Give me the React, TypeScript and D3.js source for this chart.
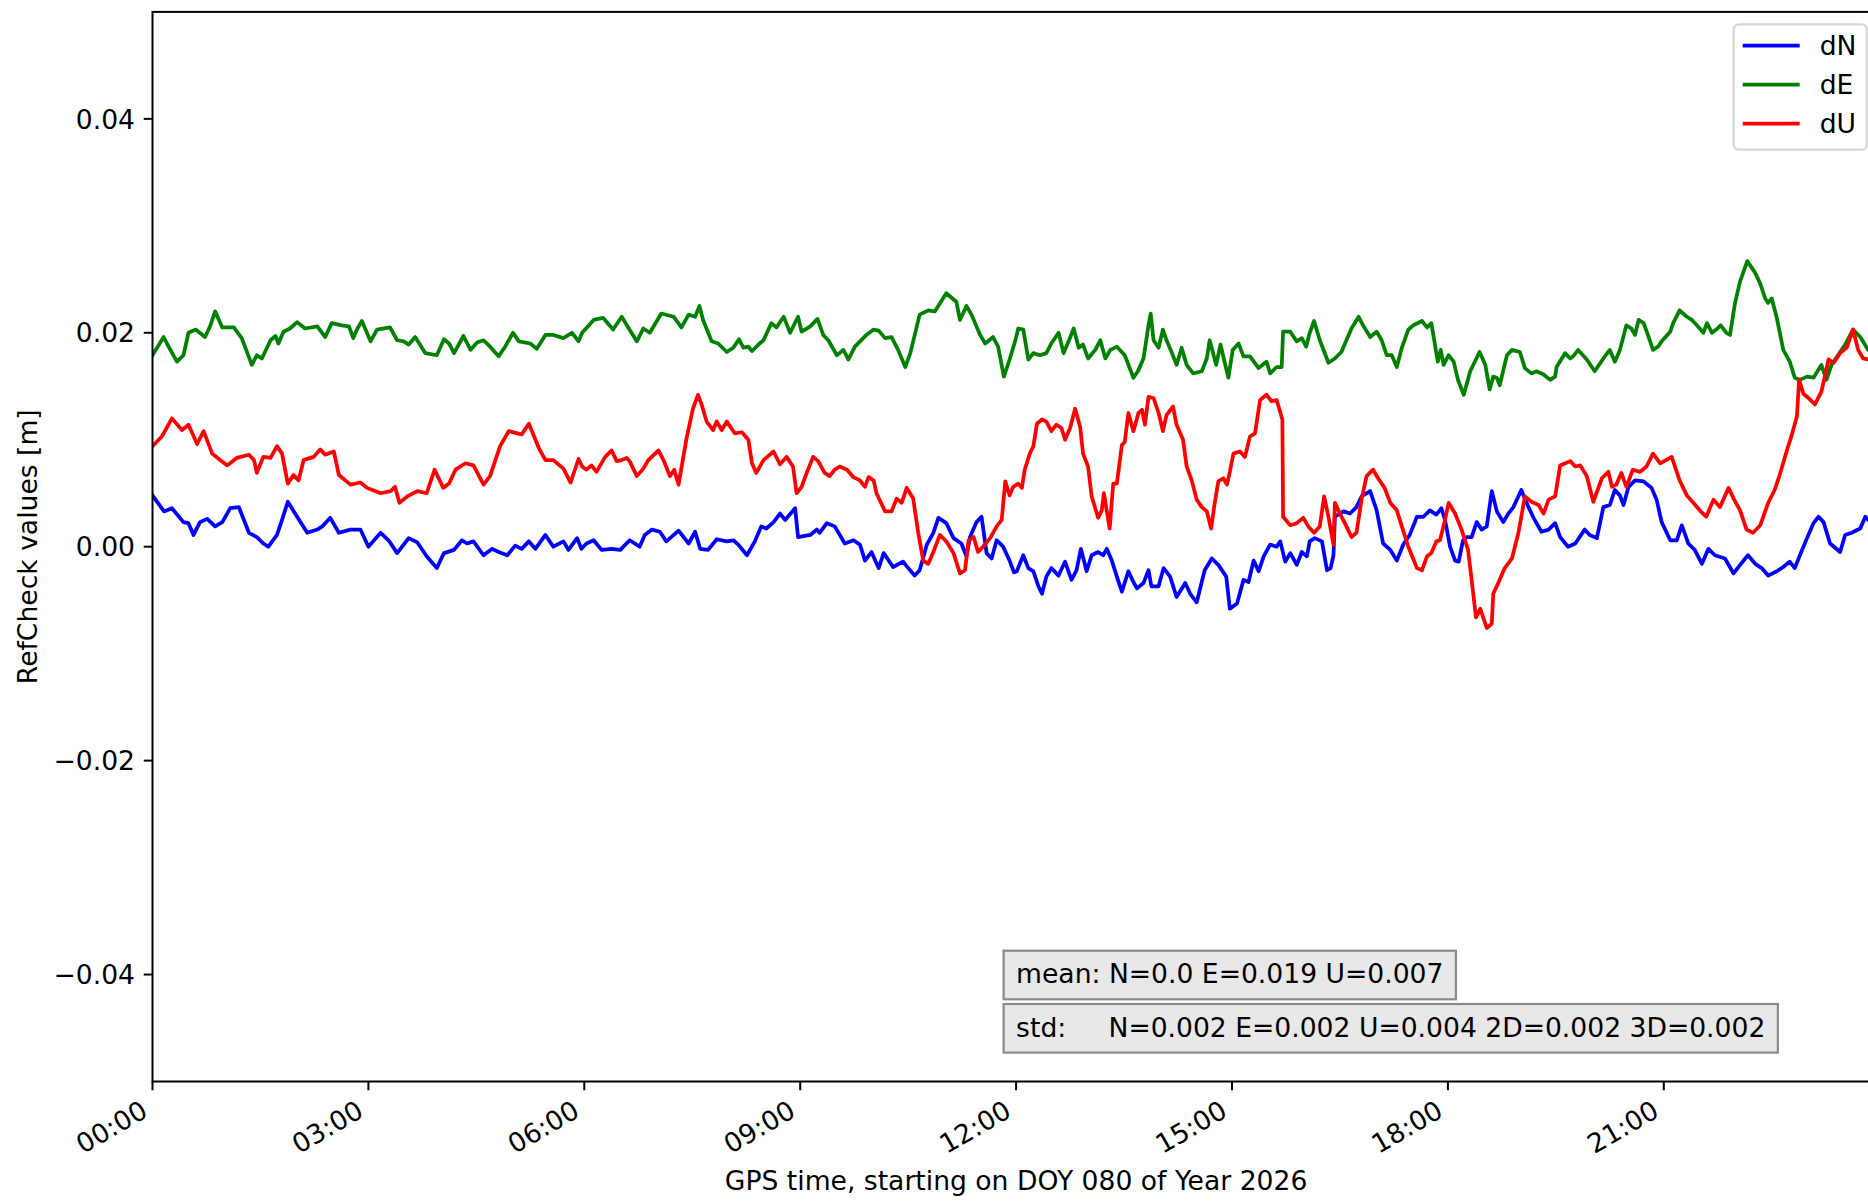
import React, { useEffect, useRef } from 'react';
import * as d3 from 'd3';

// ---------- data (hours since 00:00, values in millimetres) ----------
const seriesNames = ['dN', 'dE', 'dU'];
const seriesColors = ['#0000ff', '#008000', '#ff0000'];

const dN: [number, number][] = [
[0,4.8],[0.16,3.3],[0.27,3.6],[0.43,2.3],[0.5,2.2],[0.57,1.1],[0.66,2.3],[0.76,2.6],[0.87,1.9],[0.97,2.3],[1.08,3.6],[1.2,3.7],[1.34,1.3],[1.45,0.9],[1.54,0.3],[1.61,0.0],[1.73,1.1],[1.8,2.5],[1.88,4.2],[2.01,2.8],[2.15,1.3],[2.29,1.6],[2.36,1.9],[2.47,2.7],[2.59,1.3],[2.75,1.6],[2.89,1.6],[3.0,0.0],[3.17,1.3],[3.28,0.6],[3.4,-0.6],[3.56,0.8],[3.68,0.4],[3.81,-0.9],[3.95,-2.0],[4.05,-0.6],[4.19,-0.3],[4.3,0.6],[4.37,0.3],[4.46,0.5],[4.6,-0.8],[4.72,-0.2],[4.81,-0.5],[4.93,-0.8],[5.04,0.1],[5.13,-0.2],[5.23,0.5],[5.32,-0.2],[5.46,1.1],[5.57,0.0],[5.71,0.5],[5.78,-0.3],[5.9,0.8],
[5.96,-0.2],[6.03,0.3],[6.13,0.6],[6.24,-0.3],[6.38,-0.2],[6.5,-0.3],[6.63,0.6],[6.77,0.0],[6.84,1.1],[6.94,1.6],[7.05,1.4],[7.14,0.5],[7.31,1.5],[7.45,0.3],[7.54,1.4],[7.61,-0.2],[7.72,-0.3],[7.84,0.7],[7.98,0.5],[8.07,0.6],[8.14,0.2],[8.26,-0.8],[8.37,0.5],[8.46,1.9],[8.53,1.7],[8.63,2.3],[8.72,3.1],[8.79,2.5],[8.93,3.6],[8.97,0.9],[9.14,1.1],[9.23,1.6],[9.27,1.3],[9.37,2.2],[9.48,1.9],[9.62,0.3],[9.74,0.6],[9.83,0.2],[9.9,-1.3],[9.99,-0.5],[10.09,-2.0],[10.16,-0.6],[10.29,-1.9],[10.43,-1.4],[10.5,-2.0],[10.59,-2.7],[10.66,-2.2],[10.76,0.2],[10.85,1.3],[10.92,2.7],[11.03,2.2],[11.13,0.8],[11.24,0.3],[11.31,-0.9],[11.36,0.9],[11.45,2.3],[11.52,2.8],[11.59,-0.6],[11.66,-1.1],[11.73,0.6],[11.82,0.0],[11.91,-1.3],[11.97,-2.4],
[12.01,-2.3],[12.1,-0.8],[12.17,-2.0],[12.24,-2.3],[12.31,-3.7],[12.36,-4.4],[12.42,-2.8],[12.49,-2.0],[12.59,-2.7],[12.68,-1.4],[12.77,-3.1],[12.84,-2.2],[12.9,-0.2],[12.98,-2.3],[13.05,-0.8],[13.14,-0.5],[13.21,-0.8],[13.26,-0.2],[13.33,-1.3],[13.4,-2.8],[13.47,-4.2],[13.56,-2.3],[13.63,-3.3],[13.68,-3.9],[13.77,-3.4],[13.84,-2.2],[13.88,-3.7],[13.98,-3.7],[14.05,-2.0],[14.14,-2.8],[14.23,-4.7],[14.35,-3.4],[14.42,-4.4],[14.51,-5.2],[14.62,-2.2],[14.72,-1.1],[14.81,-1.7],[14.92,-2.8],[14.97,-5.8],[15.07,-5.3],[15.16,-3.1],[15.23,-3.3],[15.3,-1.3],[15.37,-2.3],[15.44,-0.9],[15.53,0.2],[15.62,0.0],[15.67,0.5],[15.74,-1.4],[15.81,-0.6],[15.9,-1.7],[15.97,-0.5],[16.04,-0.9],[16.08,0.5],[16.15,0.8],[16.25,0.5],[16.32,-2.2],[16.37,-2.0],[16.41,-0.8],[16.43,2.8],[16.55,3.3],[16.64,3.1],[16.73,3.7],[16.8,4.7],[16.92,5.2],[17.01,3.4],[17.1,0.3],[17.2,-0.3],[17.29,-1.3],[17.38,0.2],[17.47,1.1],[17.57,2.8],[17.66,2.8],[17.75,3.4],[17.84,3.0],[17.91,3.6],
[17.96,2.5],[18.03,0.0],[18.1,-1.3],[18.15,-1.4],[18.21,0.6],[18.26,0.9],[18.33,0.9],[18.4,2.3],[18.47,1.6],[18.54,1.9],[18.61,5.2],[18.68,3.3],[18.77,2.3],[18.84,3.1],[18.91,3.7],[19.02,5.3],[19.12,3.7],[19.19,2.7],[19.3,1.4],[19.4,1.6],[19.49,2.2],[19.56,0.9],[19.67,0.0],[19.77,0.3],[19.9,1.6],[19.97,1.1],[20.07,0.8],[20.16,3.7],[20.25,3.9],[20.32,5.3],[20.39,4.8],[20.44,3.9],[20.51,5.6],[20.6,6.2],[20.72,6.1],[20.83,5.5],[20.9,4.4],[20.97,2.3],[21.09,0.6],[21.18,0.6],[21.25,2.0],[21.34,0.3],[21.43,-0.3],[21.53,-1.6],[21.62,-0.2],[21.71,-0.8],[21.85,-1.1],[21.97,-2.5],[22.06,-1.7],[22.17,-0.8],[22.27,-1.6],[22.36,-2.0],[22.45,-2.7],[22.57,-2.3],[22.66,-1.9],[22.75,-1.4],[22.82,-2.0],[22.91,-0.5],[22.99,0.8],[23.08,2.2],[23.15,2.8],[23.22,2.3],[23.31,0.3],[23.45,-0.5],[23.52,1.1],[23.61,1.3],[23.73,1.7],[23.8,2.8],[23.84,2.5],[23.98,2.7]
];

const dE: [number, number][] = [
[0,17.9],[0.155,19.6],[0.2,19.0],[0.34,17.3],[0.43,17.9],[0.5,20.0],[0.6,20.3],[0.73,19.6],[0.8,20.6],[0.87,22.0],[0.97,20.5],[1.13,20.5],[1.24,19.5],[1.38,17.0],[1.45,17.9],[1.52,17.6],[1.64,19.3],[1.71,19.7],[1.75,19.0],[1.82,20.1],[1.91,20.4],[2.01,21.0],[2.12,20.4],[2.29,20.6],[2.4,19.6],[2.49,20.9],[2.63,20.7],[2.73,20.6],[2.79,19.5],[2.84,20.3],[2.91,21.1],[3.03,19.2],[3.12,20.3],[3.3,20.5],[3.4,19.3],[3.49,19.2],[3.56,18.9],[3.65,19.6],[3.79,18.1],[3.95,17.9],[4.05,19.4],[4.12,19.0],[4.19,18.1],[4.32,19.7],[4.42,18.4],[4.51,19.1],[4.6,19.3],[4.69,18.7],[4.81,17.8],[4.9,18.7],[5.01,20.0],[5.09,19.2],[5.25,19.0],[5.34,18.5],[5.46,19.8],[5.57,19.8],[5.71,19.5],[5.83,20.0],[5.92,19.2],
[5.97,20.0],[6.13,21.2],[6.26,21.4],[6.4,20.3],[6.52,21.5],[6.61,20.5],[6.73,19.2],[6.82,20.4],[6.91,20.0],[7.07,21.8],[7.24,21.5],[7.35,20.5],[7.45,21.7],[7.54,21.5],[7.6,22.5],[7.65,21.2],[7.77,19.2],[7.86,19.0],[7.98,18.2],[8.07,18.6],[8.15,19.4],[8.21,18.6],[8.28,18.7],[8.33,18.3],[8.42,18.9],[8.49,19.3],[8.6,20.9],[8.67,20.5],[8.77,21.5],[8.86,20.0],[8.97,21.5],[9.02,20.1],[9.14,20.6],[9.24,21.3],[9.32,19.8],[9.39,19.3],[9.51,17.9],[9.6,18.4],[9.67,17.5],[9.76,18.7],[9.92,19.8],[10.02,20.3],[10.09,20.2],[10.18,19.5],[10.27,19.6],[10.36,18.4],[10.46,16.8],[10.53,18.1],[10.66,21.7],[10.78,22.1],[10.87,22.0],[11.03,23.7],[11.17,22.9],[11.22,21.2],[11.31,22.5],[11.38,21.7],[11.5,19.8],[11.57,19.0],[11.68,19.6],[11.75,18.7],[11.83,15.9],[11.91,17.5],
[11.99,19.3],[12.03,20.4],[12.1,20.3],[12.17,17.5],[12.24,18.1],[12.33,17.9],[12.42,18.1],[12.49,19.0],[12.59,20.0],[12.66,18.1],[12.73,19.2],[12.8,20.4],[12.87,18.6],[12.93,18.9],[13.0,17.6],[13.1,18.4],[13.17,19.3],[13.24,17.6],[13.31,18.4],[13.4,18.7],[13.51,17.9],[13.63,15.8],[13.7,16.5],[13.77,17.6],[13.84,20.7],[13.87,21.8],[13.91,19.3],[13.98,18.6],[14.04,20.3],[14.09,19.3],[14.16,18.2],[14.23,17.0],[14.3,18.6],[14.37,17.0],[14.46,16.2],[14.58,16.4],[14.65,17.6],[14.69,19.3],[14.78,17.0],[14.84,18.9],[14.9,17.2],[14.95,15.8],[15.01,18.4],[15.09,19.0],[15.16,17.8],[15.25,17.8],[15.37,16.7],[15.48,17.3],[15.53,16.2],[15.62,16.8],[15.69,16.8],[15.71,20.1],[15.81,20.1],[15.9,19.2],[15.97,19.5],[16.03,18.7],[16.08,20.0],[16.14,21.1],[16.22,19.3],[16.34,17.2],[16.43,17.6],[16.52,18.2],[16.59,19.3],[16.66,20.4],[16.76,21.5],[16.82,20.7],[16.92,19.6],[17.01,20.1],[17.08,19.3],[17.15,17.9],[17.22,17.9],[17.29,16.8],[17.36,18.6],[17.45,20.3],[17.52,20.7],[17.64,21.1],[17.71,20.5],[17.77,20.9],[17.86,17.3],[17.9,18.4],[17.94,17.0],
[18.01,17.9],[18.08,17.3],[18.14,15.6],[18.22,14.2],[18.31,16.4],[18.44,18.2],[18.52,17.0],[18.58,14.7],[18.63,15.9],[18.68,15.8],[18.72,15.1],[18.82,17.9],[18.89,18.4],[19.0,18.2],[19.07,16.7],[19.16,16.2],[19.23,16.4],[19.33,16.1],[19.42,15.6],[19.49,15.9],[19.51,16.8],[19.63,18.1],[19.7,17.6],[19.74,17.8],[19.81,18.4],[19.93,17.5],[20.04,16.4],[20.16,17.6],[20.25,18.4],[20.32,17.3],[20.39,18.4],[20.48,20.7],[20.55,20.4],[20.6,19.8],[20.65,21.2],[20.72,20.9],[20.79,19.6],[20.85,18.4],[20.92,18.7],[20.97,19.2],[21.09,20.1],[21.13,20.9],[21.22,22.1],[21.32,21.5],[21.39,21.2],[21.46,20.7],[21.55,20.0],[21.6,20.9],[21.67,20.0],[21.73,20.3],[21.79,20.7],[21.87,20.0],[21.92,19.8],[21.99,22.8],[22.06,24.8],[22.16,26.7],[22.27,25.6],[22.34,24.6],[22.41,23.2],[22.45,22.8],[22.5,23.2],[22.57,21.4],[22.66,18.4],[22.75,17.3],[22.82,15.8],[22.89,15.6],[22.99,15.9],[23.08,15.8],[23.19,17.0],[23.26,15.6],[23.33,17.0],[23.42,17.9],[23.52,18.9],[23.63,20.3],[23.73,19.6],[23.84,18.4],[23.98,18.0]
];

const dU: [number, number][] = [
[0,9.4],[0.13,10.3],[0.27,12.0],[0.41,10.9],[0.5,11.4],[0.62,9.6],[0.71,10.8],[0.83,8.7],[0.94,8.1],[1.04,7.6],[1.17,8.3],[1.34,8.6],[1.41,8.1],[1.45,6.9],[1.54,8.4],[1.64,8.3],[1.73,9.4],[1.8,8.7],[1.88,5.9],[1.96,6.7],[2.03,6.2],[2.1,8.1],[2.24,8.4],[2.33,9.1],[2.4,8.6],[2.52,8.9],[2.59,6.7],[2.75,5.8],[2.89,6.0],[2.98,5.5],[3.17,5.0],[3.31,5.2],[3.37,5.6],[3.43,4.1],[3.54,4.7],[3.68,5.2],[3.81,5.0],[3.92,7.2],[4.04,5.5],[4.12,5.9],[4.21,7.2],[4.35,7.8],[4.46,7.6],[4.6,5.8],[4.69,6.6],[4.83,9.4],[4.95,10.8],[5.07,10.6],[5.13,10.5],[5.23,11.5],[5.37,9.2],[5.46,8.1],[5.57,8.1],[5.71,7.3],[5.81,6.0],[5.92,8.2],
[5.97,7.5],[6.03,7.2],[6.1,7.6],[6.17,7.0],[6.29,8.4],[6.38,9.0],[6.45,8.0],[6.52,8.1],[6.59,8.3],[6.63,8.0],[6.73,6.6],[6.82,7.3],[6.89,8.1],[7.03,9.0],[7.1,8.1],[7.19,6.6],[7.25,7.2],[7.31,5.8],[7.42,10.1],[7.51,12.9],[7.58,14.2],[7.63,13.3],[7.7,11.7],[7.79,10.9],[7.84,11.7],[7.91,10.9],[7.98,11.7],[8.09,10.6],[8.19,10.7],[8.28,10.0],[8.33,7.8],[8.39,6.9],[8.49,8.1],[8.63,8.9],[8.72,7.7],[8.81,8.4],[8.9,7.5],[8.95,5.0],[9.02,5.6],[9.09,6.9],[9.18,8.4],[9.25,8.0],[9.34,6.9],[9.41,6.6],[9.48,7.2],[9.55,7.5],[9.65,7.2],[9.74,6.5],[9.83,6.2],[9.9,5.6],[9.95,6.5],[10.02,6.2],[10.06,5.0],[10.18,3.3],[10.27,3.3],[10.34,4.5],[10.41,4.1],[10.48,5.5],[10.57,4.5],[10.64,1.3],[10.71,-1.3],[10.78,-1.6],[10.85,-0.5],[10.94,1.1],[11.03,0.5],[11.13,-0.6],[11.22,-2.5],[11.29,-2.2],[11.34,0.6],[11.41,0.9],[11.47,-0.5],[11.54,0.0],[11.64,0.8],[11.73,1.9],[11.8,2.5],[11.85,6.1],[11.91,4.8],
[11.96,5.6],[12.03,5.9],[12.08,5.5],[12.12,7.2],[12.19,8.7],[12.24,9.4],[12.29,11.5],[12.36,11.9],[12.42,11.7],[12.49,10.8],[12.56,11.4],[12.63,11.1],[12.68,10.0],[12.75,11.1],[12.82,12.9],[12.89,11.2],[12.93,8.7],[13.0,7.5],[13.05,4.7],[13.14,2.7],[13.19,3.4],[13.22,5.0],[13.3,1.7],[13.35,5.9],[13.4,5.9],[13.47,9.5],[13.51,9.8],[13.56,12.5],[13.63,10.8],[13.7,12.5],[13.75,12.8],[13.79,11.4],[13.84,14.0],[13.91,13.9],[13.98,12.5],[14.04,10.8],[14.09,12.3],[14.18,13.1],[14.23,11.4],[14.32,10.0],[14.37,7.5],[14.44,6.2],[14.51,4.4],[14.58,3.7],[14.65,3.3],[14.71,1.7],[14.76,4.1],[14.81,6.1],[14.88,6.4],[14.93,5.8],[14.97,7.0],[15.02,8.7],[15.11,8.9],[15.18,8.4],[15.25,10.3],[15.32,10.6],[15.39,13.7],[15.48,14.2],[15.55,13.6],[15.62,13.7],[15.67,12.6],[15.7,11.9],[15.71,2.8],[15.81,2.0],[15.9,2.2],[15.99,2.7],[16.06,1.9],[16.14,1.3],[16.22,1.9],[16.28,4.7],[16.34,2.8],[16.41,0.2],[16.43,4.1],[16.5,3.1],[16.59,1.9],[16.66,0.9],[16.73,1.3],[16.8,4.4],[16.87,6.6],[16.96,7.2],[17.03,6.4],[17.12,5.5],[17.2,4.1],[17.29,3.4],[17.36,1.9],[17.45,0.0],[17.57,-2.0],[17.64,-2.2],[17.71,-0.9],[17.77,-0.6],[17.84,0.5],[17.89,0.6],
[17.96,2.5],[18.01,4.1],[18.1,3.1],[18.19,1.6],[18.28,-0.3],[18.33,-3.1],[18.39,-6.6],[18.45,-5.8],[18.54,-7.6],[18.61,-7.2],[18.63,-4.4],[18.7,-3.4],[18.79,-2.0],[18.89,-1.1],[18.98,1.3],[19.07,4.7],[19.16,4.2],[19.26,3.9],[19.33,3.1],[19.4,4.4],[19.49,4.7],[19.56,7.6],[19.63,7.8],[19.7,8.0],[19.77,7.5],[19.84,7.6],[19.93,6.6],[20.02,4.2],[20.14,6.4],[20.23,7.0],[20.28,5.6],[20.34,5.8],[20.41,6.9],[20.48,5.6],[20.57,7.2],[20.67,7.0],[20.76,7.5],[20.85,8.7],[20.95,7.8],[21.11,8.4],[21.22,6.2],[21.32,4.8],[21.41,4.1],[21.5,3.4],[21.59,2.8],[21.69,4.4],[21.78,3.7],[21.9,5.5],[21.97,4.5],[22.06,3.4],[22.15,1.6],[22.24,1.3],[22.34,2.0],[22.45,4.1],[22.54,5.3],[22.61,6.7],[22.71,9.0],[22.78,10.5],[22.85,12.2],[22.88,15.6],[22.94,14.3],[23.01,13.9],[23.1,13.3],[23.19,14.5],[23.29,17.5],[23.36,17.2],[23.45,18.1],[23.54,18.6],[23.63,20.3],[23.7,18.4],[23.77,17.6],[23.84,17.5],[23.98,17.0]
];

const xTicks = [0, 3, 6, 9, 12, 15, 18, 21];
const xTickLabels = ['00:00', '03:00', '06:00', '09:00', '12:00', '15:00', '18:00', '21:00'];
const yTicks = [-0.04, -0.02, 0, 0.02, 0.04];
const xDomain = [0, 24];
const yDomain = [-0.05, 0.05];

const xLabel = 'GPS time, starting on DOY 080 of Year 2026';
const yLabel = 'RefCheck values [m]';
const meanText = 'mean: N=0.0 E=0.019 U=0.007';
const stdText = 'std:     N=0.002 E=0.002 U=0.004 2D=0.002 3D=0.002';

// ---------- layout ----------
const W = 1868;
const H = 1201;
const PL = 152.5, PR = 1879.7, PT = 11.9, PB = 1081.5;
const FS = 26.6;
const FONT = '"DejaVu Sans", "Liberation Sans", sans-serif';

export default function App() {
  const ref = useRef<SVGSVGElement | null>(null);

  useEffect(() => {
    const svg = d3.select(ref.current);
    svg.selectAll('*').remove();

    const x = d3.scaleLinear().domain(xDomain).range([PL, PR]);
    const y = d3.scaleLinear().domain(yDomain).range([PB, PT]);

    svg.append('rect').attr('x', 0).attr('y', 0).attr('width', W).attr('height', H).attr('fill', '#ffffff');

    const defs = svg.append('defs');
    defs.append('clipPath').attr('id', 'plotclip')
      .append('rect').attr('x', PL).attr('y', PT).attr('width', PR - PL).attr('height', PB - PT);

    // lines
    const line = d3.line<[number, number]>()
      .x(d => x(d[0]))
      .y(d => y(d[1] / 1000));
    const allSeries = [dN, dE, dU];
    const g = svg.append('g').attr('clip-path', 'url(#plotclip)');
    allSeries.forEach((s, i) => {
      g.append('path')
        .attr('d', line(s) as string)
        .attr('fill', 'none')
        .attr('stroke', seriesColors[i])
        .attr('stroke-width', 3.75)
        .attr('stroke-linejoin', 'round')
        .attr('stroke-linecap', 'square');
    });

    // frame
    svg.append('rect')
      .attr('x', PL).attr('y', PT).attr('width', PR - PL).attr('height', PB - PT)
      .attr('fill', 'none').attr('stroke', '#000').attr('stroke-width', 2);

    const tickLen = 8.75;
    const pad = 8.75;

    // y ticks
    const fmtY = d3.format('.2f');
    const yg = svg.append('g');
    yTicks.forEach(t => {
      yg.append('line').attr('x1', PL - tickLen).attr('x2', PL).attr('y1', y(t)).attr('y2', y(t))
        .attr('stroke', '#000').attr('stroke-width', 2);
      yg.append('text')
        .attr('x', PL - tickLen - pad).attr('y', y(t) + FS * 0.364)
        .attr('text-anchor', 'end')
        .attr('font-family', FONT).attr('font-size', FS).attr('fill', '#000')
        .text(fmtY(t));
    });

    // x ticks
    const xg = svg.append('g');
    const textH = FS * 0.965;
    xTicks.forEach((t, i) => {
      xg.append('line').attr('x1', x(t)).attr('x2', x(t)).attr('y1', PB).attr('y2', PB + tickLen)
        .attr('stroke', '#000').attr('stroke-width', 2);
      xg.append('g')
        .attr('transform', `translate(${x(t) - textH * 0.5},${PB + tickLen + pad}) rotate(-30)`)
        .append('text')
        .attr('x', 0).attr('y', FS * 0.729)
        .attr('text-anchor', 'end')
        .attr('font-family', FONT).attr('font-size', FS).attr('fill', '#000')
        .text(xTickLabels[i]);
    });

    // axis labels
    svg.append('text')
      .attr('x', (PL + PR) / 2).attr('y', 1190)
      .attr('text-anchor', 'middle')
      .attr('font-family', FONT).attr('font-size', FS).attr('fill', '#000')
      .text(xLabel);
    svg.append('text')
      .attr('transform', `translate(37,${(PT + PB) / 2}) rotate(-90)`)
      .attr('text-anchor', 'middle')
      .attr('font-family', FONT).attr('font-size', FS).attr('fill', '#000')
      .text(yLabel);

    // stats boxes
    const boxX = PL + 0.5 * (PR - PL);
    const boxes = [
      { text: meanText, top: 950.7, base: 983.3 },
      { text: stdText, top: 1004, base: 1037.3 },
    ];
    boxes.forEach(b => {
      const bg = svg.append('g');
      const rect = bg.append('rect');
      const txt = bg.append('text')
        .attr('x', boxX).attr('y', b.base)
        .attr('font-family', FONT).attr('font-size', FS).attr('fill', '#000')
        .style('white-space', 'pre')
        .attr('xml:space', 'preserve')
        .text(b.text);
      const len = (txt.node() as SVGTextElement).getComputedTextLength();
      rect.attr('x', boxX - 12.5).attr('y', b.top)
        .attr('width', len + 25).attr('height', 48.6)
        .attr('fill', '#e8e8e8').attr('stroke', '#8a8a8a').attr('stroke-width', 2.2);
    });

    // legend
    const lgRight = PR - 13;
    const lgTop = PT + 12.4;
    const lgW = 133, lgH = 125.4;
    const lg = svg.append('g');
    lg.append('rect')
      .attr('x', lgRight - lgW).attr('y', lgTop).attr('width', lgW).attr('height', lgH)
      .attr('rx', 5.2).attr('ry', 5.2)
      .attr('fill', '#ffffff').attr('fill-opacity', 0.8)
      .attr('stroke', '#d6d6d6').attr('stroke-width', 2.2);
    seriesNames.forEach((name, i) => {
      const cy = lgTop + 21.4 + i * 39;
      lg.append('line')
        .attr('x1', lgRight - lgW + 9).attr('x2', lgRight - lgW + 66)
        .attr('y1', cy).attr('y2', cy)
        .attr('stroke', seriesColors[i]).attr('stroke-width', 3.75);
      lg.append('text')
        .attr('x', lgRight - lgW + 86).attr('y', cy + FS * 0.364)
        .attr('font-family', FONT).attr('font-size', FS).attr('fill', '#000')
        .text(name);
    });
  }, []);

  return (
    <svg
      ref={ref}
      width={W}
      height={H}
      viewBox={`0 0 ${W} ${H}`}
      style={{ position: 'absolute', left: 0, top: 0, display: 'block' }}
    />
  );
}
